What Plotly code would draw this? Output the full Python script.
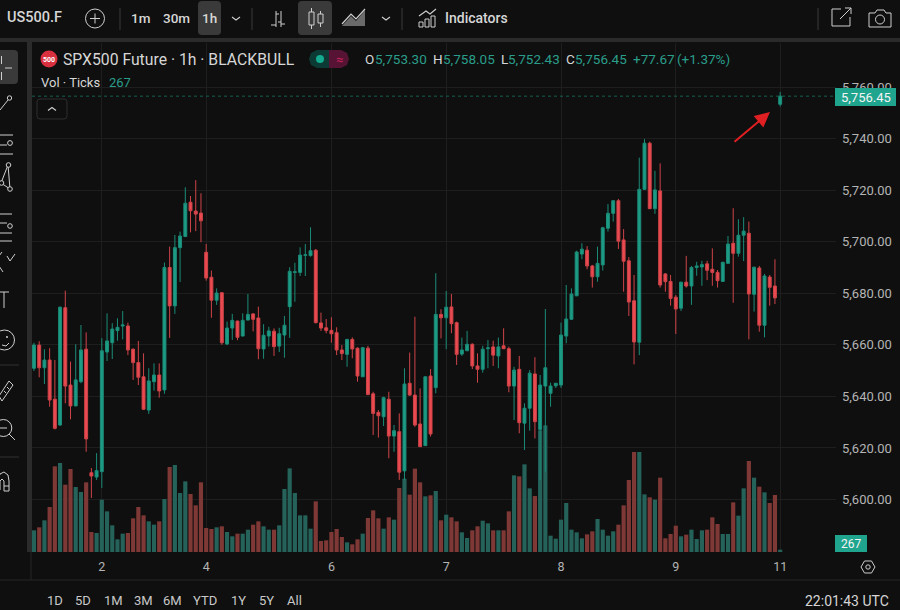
import plotly.graph_objects as go

# hourly candles
OPEN = [5650.9, 5659.9, 5651.1, 5654.1, 5638.9, 5628.9, 5674.4, 5644.4, 5636.3, 5645.7, 5658.3, 5610.4,
        5608.7, 5610.8, 5657.2, 5660.8, 5665.5, 5667.3, 5667.3, 5658.3, 5653.1, 5647.6, 5634.7, 5645.7,
        5648.3, 5642.5, 5690.0, 5675.1, 5697.7, 5702.0, 5715.3, 5711.9, 5711.1, 5695.9, 5686.2, 5677.3,
        5680.2, 5660.3, 5666.5, 5669.2, 5663.4, 5669.6, 5672.0, 5670.4, 5658.4, 5663.4, 5665.3, 5659.5,
        5663.8, 5674.8, 5688.1, 5688.1, 5694.7, 5694.6, 5696.7, 5668.5, 5666.6, 5665.6, 5664.7, 5658.0,
        5656.3, 5662.1, 5658.7, 5647.6, 5658.7, 5641.0, 5633.8, 5632.1, 5638.9, 5624.6, 5626.3, 5611.1,
        5645.1, 5640.5, 5629.3, 5620.9, 5647.9, 5643.4, 5671.8, 5670.5, 5674.7, 5668.6, 5656.4, 5657.7,
        5660.2, 5651.8, 5650.5, 5658.5, 5659.2, 5655.7, 5659.6, 5658.5, 5644.0, 5650.5, 5629.6, 5635.4,
        5648.7, 5627.2, 5644.0, 5641.2, 5644.1, 5644.4, 5663.4, 5669.9, 5679.0, 5695.2, 5696.7, 5690.6,
        5686.4, 5691.0, 5705.2, 5711.0, 5715.9, 5700.7, 5692.6, 5677.1, 5661.0, 5720.3, 5738.2, 5712.8,
        5719.7, 5687.5, 5684.6, 5678.5, 5674.2, 5684.3, 5682.8, 5690.0, 5690.2, 5691.4, 5689.3, 5688.1,
        5684.6, 5691.6, 5699.4, 5695.5, 5702.5, 5703.3, 5679.6, 5689.8, 5667.6, 5686.3, 5682.8, 5753.30]
HIGH = [5660.8, 5661.4, 5658.3, 5658.7, 5654.1, 5674.8, 5681.0, 5653.5, 5660.2, 5667.7, 5664.8, 5612.2,
        5618.0, 5662.6, 5672.2, 5668.4, 5670.3, 5673.1, 5668.6, 5658.6, 5661.5, 5656.7, 5650.9, 5652.8,
        5652.8, 5691.9, 5698.1, 5702.6, 5703.9, 5721.1, 5717.7, 5723.9, 5718.8, 5699.1, 5688.8, 5681.9,
        5680.4, 5669.0, 5672.0, 5669.4, 5672.2, 5679.7, 5672.2, 5674.8, 5668.0, 5667.0, 5666.4, 5666.6,
        5671.2, 5690.1, 5691.8, 5697.8, 5699.1, 5705.6, 5697.1, 5672.5, 5670.0, 5670.7, 5666.8, 5659.9,
        5662.3, 5662.9, 5659.0, 5659.2, 5659.6, 5641.8, 5634.7, 5639.9, 5641.8, 5628.9, 5633.4, 5650.9,
        5657.0, 5670.9, 5643.1, 5647.7, 5650.6, 5687.8, 5673.8, 5680.9, 5679.7, 5669.0, 5662.8, 5665.4,
        5660.6, 5656.7, 5659.6, 5661.9, 5661.6, 5662.8, 5666.4, 5659.3, 5651.5, 5655.7, 5637.3, 5650.2,
        5655.2, 5648.3, 5673.9, 5645.3, 5645.2, 5668.6, 5683.2, 5681.9, 5696.5, 5699.4, 5698.3, 5691.0,
        5698.1, 5705.8, 5714.6, 5716.2, 5716.6, 5704.9, 5694.0, 5687.1, 5732.6, 5739.8, 5738.8, 5727.5,
        5730.4, 5687.8, 5687.1, 5679.3, 5684.5, 5694.5, 5690.6, 5692.2, 5692.6, 5692.6, 5697.4, 5689.0,
        5692.2, 5702.2, 5713.0, 5708.7, 5709.5, 5707.8, 5690.3, 5690.6, 5687.5, 5687.1, 5693.2, 5758.05]
LOW = [5649.9, 5647.4, 5644.8, 5636.0, 5627.2, 5628.5, 5637.3, 5631.1, 5636.2, 5645.1, 5618.5, 5600.6,
       5607.6, 5604.5, 5653.7, 5654.5, 5661.6, 5662.1, 5656.0, 5646.4, 5644.4, 5634.7, 5633.2, 5642.2,
       5639.5, 5641.0, 5662.7, 5672.0, 5684.4, 5701.8, 5703.6, 5704.1, 5699.8, 5684.9, 5670.5, 5675.5,
       5660.0, 5659.9, 5661.9, 5661.8, 5663.3, 5669.5, 5665.2, 5654.4, 5654.6, 5659.3, 5655.7, 5657.2,
       5655.0, 5662.7, 5676.7, 5686.7, 5686.7, 5694.2, 5668.3, 5665.4, 5664.5, 5660.8, 5656.0, 5654.1,
       5651.5, 5654.8, 5645.7, 5647.5, 5640.5, 5625.0, 5624.0, 5628.5, 5616.0, 5618.5, 5607.6, 5607.6,
       5640.3, 5628.2, 5620.4, 5620.8, 5624.4, 5641.2, 5662.5, 5658.3, 5664.5, 5652.2, 5655.7, 5657.6,
       5650.6, 5645.3, 5649.2, 5650.9, 5651.8, 5650.9, 5658.4, 5641.6, 5630.8, 5625.7, 5619.2, 5626.7,
       5623.7, 5607.6, 5610.8, 5636.0, 5643.3, 5643.3, 5660.6, 5669.6, 5678.9, 5693.2, 5689.3, 5682.2,
       5684.5, 5688.8, 5703.9, 5707.8, 5697.2, 5680.6, 5671.2, 5652.4, 5656.0, 5720.1, 5712.7, 5710.8,
       5682.2, 5680.6, 5675.2, 5664.2, 5673.1, 5682.2, 5675.5, 5686.8, 5682.9, 5685.1, 5682.9, 5682.2,
       5684.5, 5691.4, 5676.3, 5694.2, 5692.5, 5662.1, 5672.9, 5665.1, 5662.9, 5675.2, 5675.8, 5752.43]
CLOSE = [5659.9, 5651.1, 5654.1, 5638.6, 5627.6, 5674.6, 5644.0, 5636.3, 5646.4, 5658.0, 5623.5, 5609.1,
         5611.2, 5657.7, 5661.5, 5666.1, 5666.8, 5667.7, 5658.0, 5653.1, 5647.4, 5635.0, 5646.0, 5648.3,
         5642.1, 5690.0, 5675.1, 5697.7, 5702.2, 5714.9, 5712.0, 5710.7, 5708.1, 5685.9, 5677.3, 5680.1,
         5660.8, 5666.5, 5669.5, 5662.9, 5669.5, 5671.8, 5669.9, 5658.5, 5663.7, 5665.4, 5659.3, 5664.3,
         5667.6, 5688.5, 5688.3, 5694.8, 5694.9, 5696.5, 5668.6, 5666.5, 5665.6, 5664.3, 5658.0, 5656.6,
         5662.1, 5658.4, 5647.9, 5658.9, 5640.7, 5633.4, 5632.5, 5639.5, 5624.6, 5626.7, 5610.6, 5644.8,
         5640.5, 5628.9, 5620.5, 5647.6, 5625.4, 5671.8, 5670.5, 5674.6, 5668.2, 5656.3, 5658.0, 5660.2,
         5651.8, 5650.5, 5658.3, 5658.8, 5656.0, 5659.2, 5658.5, 5644.0, 5650.2, 5629.8, 5635.4, 5649.0,
         5630.2, 5644.4, 5651.1, 5644.0, 5645.1, 5663.8, 5670.0, 5679.7, 5696.0, 5697.1, 5690.6, 5686.4,
         5691.6, 5705.4, 5711.0, 5715.9, 5700.2, 5692.4, 5676.6, 5661.1, 5720.3, 5738.2, 5712.8, 5720.1,
         5683.2, 5684.5, 5678.0, 5673.9, 5684.3, 5682.8, 5690.0, 5690.6, 5691.1, 5688.9, 5688.1, 5684.9,
         5692.0, 5699.1, 5695.5, 5702.5, 5704.1, 5679.7, 5690.1, 5667.6, 5686.7, 5682.3, 5678.2, 5756.45]
VOLUME = [2516, 2864, 3677, 5225, 9946, 10333, 7817, 9636, 7547, 6966, 8088, 2322,
          2206, 6076, 4721, 3096, 1471, 2129, 2206, 3909, 5225, 4257, 3560, 3173,
          3560, 6153, 9869, 10101, 6850, 8204, 6734, 5418, 8088, 2786, 2670, 2864,
          2980, 2322, 1819, 2129, 2129, 2593, 3173, 3560, 2980, 2593, 2593, 3096,
          7314, 9714, 6850, 4257, 4257, 2709, 5882, 1277, 1355, 2322, 2670, 1742,
          1122, 890, 1471, 2129, 3947, 4838, 3909, 2709, 4025, 3754, 7430, 8514,
          6656, 9675, 8088, 6463, 6579, 7082, 3677, 4334, 4025, 3560, 2283, 1625,
          2516, 2980, 3638, 3328, 2516, 2516, 2516, 4721, 8901, 8785, 10178, 7392,
          6502, 14126, 14706, 1896, 1548, 3754, 5689, 2593, 2283, 1587, 2051, 2399,
          3831, 2593, 1896, 2399, 3173, 5418, 8359, 11610, 11610, 6695, 6347, 6076,
          8630, 1587, 2090, 3057, 1819, 2012, 2593, 1509, 2516, 2593, 4025, 3251,
          2090, 2090, 5766, 4218, 7392, 10565, 8630, 7585, 6927, 5689, 6618, 267]
BAR_INDEX = list(range(len(CLOSE)))

TICK_POS = [13, 33, 57, 79, 101, 123, 143]
TICK_LABELS = ["2", "4", "6", "7", "8", "9", "11"]
PRICE_TICKS = [5600, 5620, 5640, 5660, 5680, 5700, 5720, 5740, 5760]
RANGE_BUTTONS = ["1D", "5D", "1M", "3M", "6M", "YTD", "1Y", "5Y", "All"]
RANGE_BUTTON_X = [47, 75, 104, 134, 163, 193, 231, 259, 287]

BG = "#0f0f0f"
GRID = "#1e1e1e"
PANEL_LINE = "#2b2b2b"
TEXT = "#d6d6d6"
AXIS_TEXT = "#b4b4b4"
ICON = "#cfcfcf"
UP = "#1d9c85"
DOWN = "#ea4a50"
UP_WICK = "#1b8c78"
DOWN_WICK = "#cf4449"
UP_VOL = "#24625a"
DOWN_VOL = "#7e3835"
TEAL_TEXT = "#2a9d8a"
TAG = "#1fa48e"
FONT = "Roboto"


def px(x):
    return x / 900


def py(y):
    return 1 - y / 610


fig = go.Figure()

# volume underneath, candles on the overlaying axis so they stay on top
fig.add_trace(go.Bar(
    x=BAR_INDEX,
    y=VOLUME,
    width=0.8,
    marker=dict(color=[UP_VOL if c >= o else DOWN_VOL for o, c in zip(OPEN, CLOSE)], line=dict(width=0)),
    yaxis="y",
    showlegend=False,
))
fig.add_trace(go.Candlestick(
    x=BAR_INDEX,
    open=OPEN,
    high=HIGH,
    low=LOW,
    close=CLOSE,
    yaxis="y2",
    whiskerwidth=0,
    increasing=dict(line=dict(color=UP_WICK, width=1), fillcolor=UP),
    decreasing=dict(line=dict(color=DOWN_WICK, width=1), fillcolor=DOWN),
    showlegend=False,
))

fig.update_layout(
    width=900,
    height=610,
    autosize=False,
    margin=dict(l=0, r=0, t=0, b=0, autoexpand=False),
    paper_bgcolor=BG,
    plot_bgcolor=BG,
    boxgap=0.2,
    font=dict(family=FONT, color=AXIS_TEXT, size=12),
    xaxis=dict(
        domain=[px(32), px(836)],
        range=[-0.38, 153.7],
        rangeslider=dict(visible=False),
        tickmode="array",
        tickvals=TICK_POS,
        ticktext=TICK_LABELS,
        tickfont=dict(family=FONT, size=12.5, color=AXIS_TEXT),
        gridcolor=GRID,
        gridwidth=1,
        zeroline=False,
        showline=False,
        ticks="",
        ticklabelstandoff=5,
    ),
    yaxis=dict(
        domain=[py(552), py(43)],
        range=[0, 59100],
        visible=False,
        showgrid=False,
    ),
    yaxis2=dict(
        overlaying="y",
        side="right",
        anchor="x",
        range=[5579.64, 5777.07],
        tickmode="array",
        tickvals=PRICE_TICKS,
        tickformat=",.2f",
        tickfont=dict(family=FONT, size=13, color=AXIS_TEXT),
        gridcolor=GRID,
        gridwidth=1,
        zeroline=False,
        showline=False,
        ticks="",
        ticklabelstandoff=5,
    ),
)


def seg(x0, y0, x1, y1, color=ICON, w=1.0):
    fig.add_shape(type="line", xref="paper", yref="paper", x0=px(x0), y0=py(y0), x1=px(x1), y1=py(y1),
                  line=dict(color=color, width=w))


def box(x0, y0, x1, y1, fill=None, line=None, w=1.0):
    fig.add_shape(type="rect", xref="paper", yref="paper", x0=px(x0), y0=py(y0), x1=px(x1), y1=py(y1),
                  fillcolor=fill, line=dict(color=line, width=w if line else 0))


def ring(cx, cy, r, line=ICON, fill=None, w=1.0):
    fig.add_shape(type="circle", xref="paper", yref="paper", x0=px(cx - r), y0=py(cy - r), x1=px(cx + r),
                  y1=py(cy + r), fillcolor=fill, line=dict(color=line, width=w if line else 0))


def poly(points, closed=False, line=ICON, fill=None, w=1.0, opacity=None):
    path = "M " + " L ".join(f"{px(x):.5f},{py(y):.5f}" for x, y in points)
    if closed:
        path += " Z"
    fig.add_shape(type="path", xref="paper", yref="paper", path=path, fillcolor=fill, opacity=opacity,
                  line=dict(color=line, width=w if line else 0))


def rounded(x0, y0, x1, y1, r, fill=None, line=None):
    a, b, c, d = px(x0), py(y0), px(x1), py(y1)
    rx, ry = r / 900, r / 610
    path = (f"M {a + rx:.5f},{b:.5f} L {c - rx:.5f},{b:.5f} Q {c:.5f},{b:.5f} {c:.5f},{b - ry:.5f} "
            f"L {c:.5f},{d + ry:.5f} Q {c:.5f},{d:.5f} {c - rx:.5f},{d:.5f} L {a + rx:.5f},{d:.5f} "
            f"Q {a:.5f},{d:.5f} {a:.5f},{d + ry:.5f} L {a:.5f},{b - ry:.5f} Q {a:.5f},{b:.5f} {a + rx:.5f},{b:.5f} Z")
    fig.add_shape(type="path", xref="paper", yref="paper", path=path, fillcolor=fill,
                  line=dict(color=line, width=1 if line else 0))


def label(x, y, text, size=13, color=TEXT, anchor="left", weight=None):
    font = dict(family=FONT, size=size, color=color)
    if weight:
        font["weight"] = weight
    fig.add_annotation(xref="paper", yref="paper", x=px(x), y=py(y), text=text, showarrow=False,
                       xanchor=anchor, yanchor="middle", font=font, borderpad=0, borderwidth=0)


def chevron(cx, cy, up=False):
    dy = -3 if up else 3
    poly([(cx - 4, cy - dy / 2), (cx, cy + dy / 2), (cx + 4, cy - dy / 2)], w=1.1)


# panel separators
box(0, 38, 900, 42, fill=PANEL_LINE)
box(27, 42, 32, 552, fill=PANEL_LINE)
seg(31, 552, 31, 580, color="#262626")
seg(0, 580, 900, 580, color="#262626")

# top toolbar
label(7, 18, "US500.F", size=14.5, weight=500)
ring(95, 18.5, 9.5)
seg(90, 18.5, 100, 18.5)
seg(95, 13.5, 95, 23.5)
seg(120, 8, 120, 30, color="#3a3a3a")
label(131, 18.5, "1m", size=13.5, weight=500)
label(163, 18.5, "30m", size=13.5, weight=500)
rounded(198, 1, 221, 35, 4, fill="#3a3a3a")
label(209.5, 18.5, "1h", size=13.5, anchor="center", weight=500)
chevron(236, 18.5)
seg(252, 8, 252, 30, color="#3a3a3a")
# bar style icon
seg(276, 11, 276, 27)
seg(271, 25, 276, 25)
seg(276, 14, 279, 14)
seg(281, 11, 281, 27)
seg(278, 22, 281, 22)
seg(281, 24, 285, 24)
# candle style button
rounded(298, 1, 332, 35, 4, fill="#3a3a3a")
box(309, 12, 314, 25, line=ICON)
seg(311.5, 8, 311.5, 12)
seg(311.5, 25, 311.5, 29)
box(318, 14, 323, 23, line=ICON)
seg(320.5, 11, 320.5, 14)
seg(320.5, 23, 320.5, 27)
# area style icon
poly([(342, 26), (351, 16), (356, 21), (365, 10), (365, 26)], closed=True, line=None, fill="#8a8a8a", opacity=0.75)
poly([(342, 24), (351, 14), (356, 19), (365, 9)], w=1.2)
chevron(386, 18.5)
seg(402, 8, 402, 30, color="#3a3a3a")
# indicators icon
poly([(419, 16), (426, 11), (430, 14), (436, 9)], w=1.1)
box(419, 22, 423, 27, line=ICON)
box(425, 19, 429, 27, line=ICON)
box(431, 16, 435, 27, line=ICON)
label(445, 18, "Indicators", size=14, weight=500)
seg(818, 8, 818, 30, color="#3a3a3a")
# share and snapshot icons
poly([(841, 9), (832, 9), (832, 26), (850, 26), (850, 17)])
seg(840, 19, 851, 8)
poly([(845, 8), (851, 8), (851, 14)])
poly([(869, 13), (875, 13), (877, 10), (884, 10), (886, 13), (891, 13), (891, 27), (869, 27)], closed=True)
ring(880, 19.5, 4.5)

# left tool strip
rounded(-4, 50, 18, 84, 4, fill="#3a3a3a")
seg(1.5, 56, 1.5, 64)
seg(1.5, 72, 1.5, 80)
seg(5, 68, 12, 68)
seg(0, 110, 8, 100)
ring(9.5, 98, 2.2)
seg(0, 135, 13, 135)
seg(0, 145, 7, 145)
seg(0, 154, 13, 154)
ring(10, 143, 2.4)
poly([(8, 165), (1, 183), (10, 189)], closed=True)
ring(8.5, 165, 2.3, fill=BG)
ring(1.5, 183, 2.3, fill=BG)
ring(10, 189, 2.3, fill=BG)
seg(0, 214, 12, 214)
seg(0, 223, 7, 223)
seg(0, 233, 12, 233)
seg(0, 241, 12, 241)
ring(10, 226, 2.3)
poly([(2, 252), (-1, 256), (-2, 260), (-1, 266), (3, 272)])
poly([(7, 256), (10, 261), (15, 254)])
seg(0, 292, 9, 292)
seg(4, 292, 4, 308)
ring(4.5, 340, 10)
ring(7, 337, 0.6, fill=ICON)
poly([(2, 345), (6, 346), (9, 343)])
seg(0, 365, 19, 365, color="#333333")
poly([(-1, 396), (9, 381), (13, 385), (2, 401)], closed=True)
seg(4, 391, 6, 393)
seg(7, 387, 9, 389)
ring(3.3, 428, 8.5)
seg(-1, 428, 7, 428)
seg(9, 434, 15, 440)
seg(0, 457, 19, 457, color="#333333")
poly([(-2, 490), (-2, 480), (0, 474), (4, 472), (8, 475), (9, 481), (9, 491), (4, 491), (4, 481), (2, 479), (0, 481), (0, 490)])
seg(4, 486, 9, 486)

# chart header
ring(49, 59, 8.5, line=None, fill="#d8303f")
label(49, 59.5, "500", size=7, color="#ffffff", anchor="center", weight=700)
label(63, 59, "SPX500 Future · 1h · BLACKBULL", size=15.75)
poly([(317, 50), (329, 50), (329, 68), (317, 68), (311, 65), (309, 59), (311, 53)], closed=True, line=None, fill="#0c3a34")
poly([(329, 50), (341, 50), (347, 53), (349, 59), (347, 65), (341, 68), (329, 68)], closed=True, line=None, fill="#571333")
ring(320, 59, 4, line=None, fill="#14ab90")
label(339, 59, "≈", size=13, color="#c9245f", anchor="center")
for hx, letter, vx, val in [(365, "O", 375, OPEN[-1]), (433, "H", 443, HIGH[-1]), (500.5, "L", 508, LOW[-1]), (565.5, "C", 575, CLOSE[-1])]:
    label(hx, 59, letter, size=13.5)
    label(vx, 59, f"{val:,.2f}", size=13.5, color=TEAL_TEXT)
label(633, 59, "+77.67", size=13.5, color=TEAL_TEXT)
label(677, 59, "(+1.37%)", size=13.5, color=TEAL_TEXT)
label(41, 83, "Vol · Ticks", size=13)
label(109, 83, f"{VOLUME[-1]}", size=13, color=TEAL_TEXT)
rounded(37, 99, 67, 119, 3, line="#2f2f2f")
chevron(52, 109, up=True)

# last price line and tags
fig.add_shape(type="line", xref="paper", yref="y2", x0=px(32), x1=px(836), y0=CLOSE[-1], y1=CLOSE[-1],
              line=dict(color="#16604f", width=1, dash="dot"))
box(835, 88, 896, 106, fill=TAG)
label(865.5, 97, f"{CLOSE[-1]:,.2f}", size=13, color="#f4f4f4", anchor="center")
box(835, 535, 867, 552, fill=TAG)
label(851, 544, f"{VOLUME[-1]}", size=12, color="#f4f4f4", anchor="center")

# red arrow pointing at the last candle
fig.add_annotation(xref="paper", yref="paper", x=px(770), y=py(112), ax=-37, ay=31, text="", showarrow=True,
                   arrowhead=2, arrowsize=1.5, arrowwidth=2, arrowcolor="#e01f22")

# bottom bar
for bx, name in zip(RANGE_BUTTON_X, RANGE_BUTTONS):
    label(bx, 600.5, name, size=13, color="#c8c8c8")
label(889, 600.5, "22:01:43 UTC", size=14, color=TEXT, anchor="right")
poly([(861, 567), (864.5, 561), (871.5, 561), (875, 567), (871.5, 573), (864.5, 573)], closed=True)
ring(868, 567, 2.2)

fig.write_html("out.html", config=dict(displayModeBar=False),
               post_script="document.body.style.margin='0';document.body.style.overflow='hidden';")
